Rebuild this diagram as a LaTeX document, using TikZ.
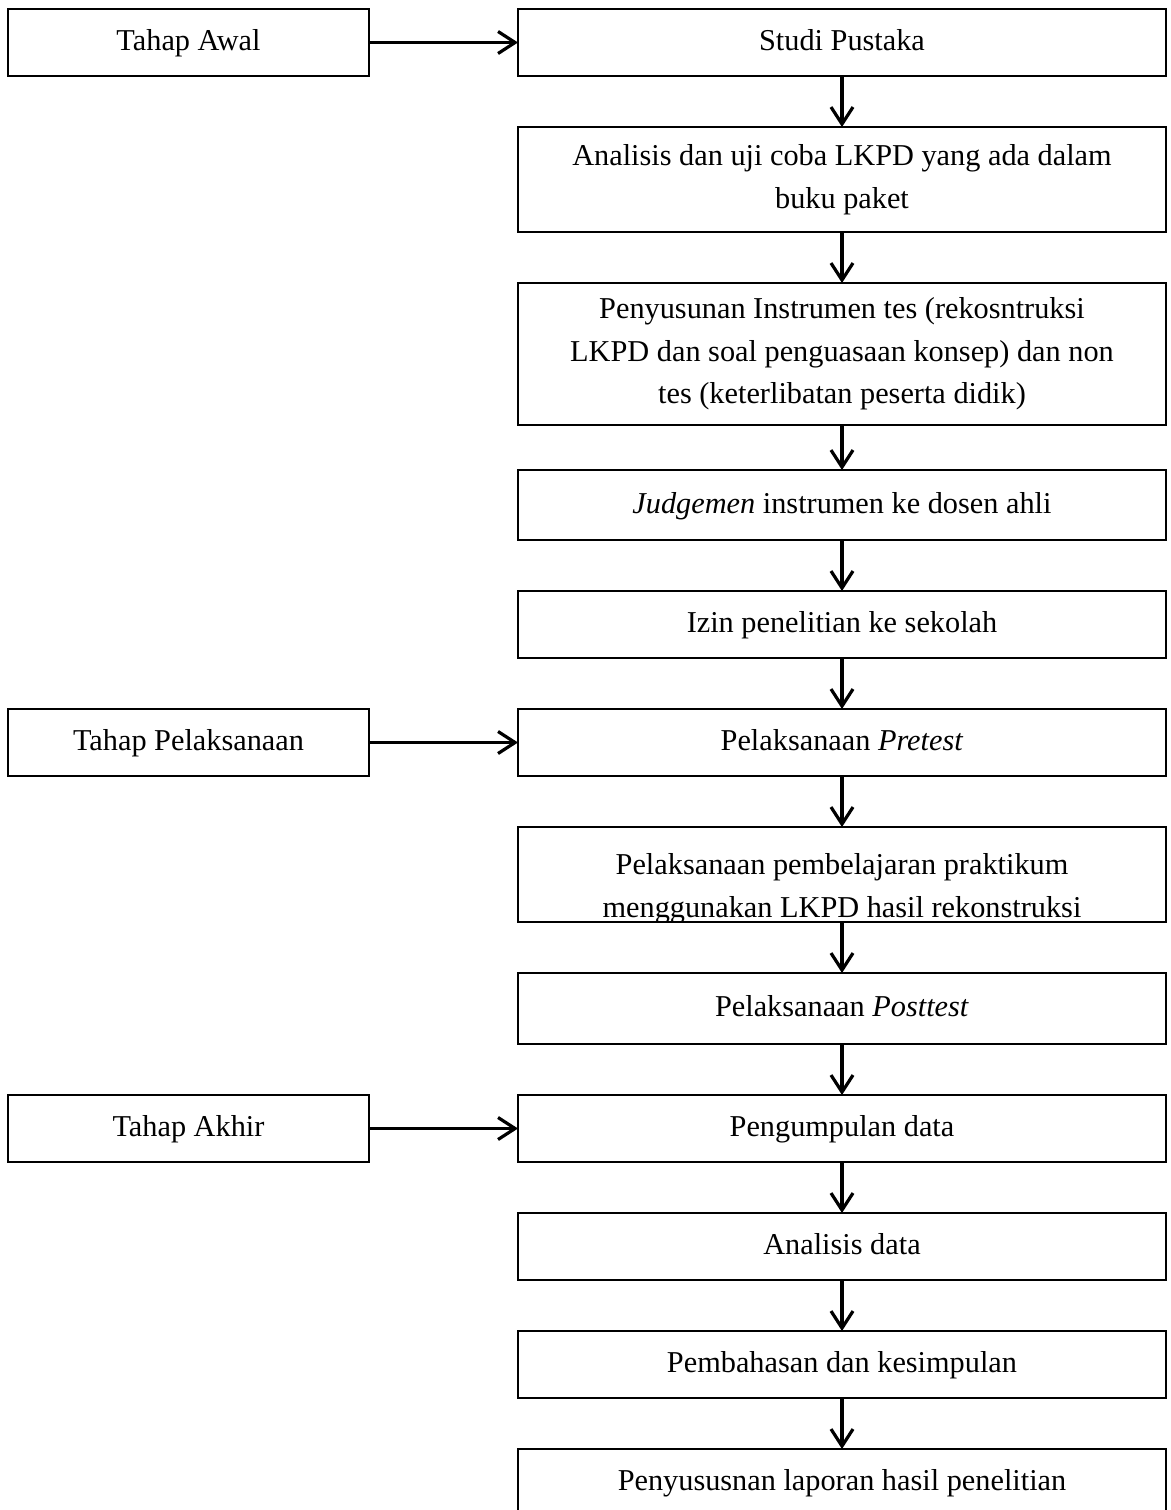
\documentclass[tikz,border=0pt]{standalone}
\usepackage{fontspec}
\setmainfont{Liberation Serif}
\usetikzlibrary{positioning,arrows.meta}
\begin{document}
\begin{tikzpicture}[x = 0.5pt, y = -0.5pt, node distance = 25.5pt,
    every node/.style = {font = \fontsize{15.15pt}{21.25pt}\selectfont},
    box/.style = {draw, rectangle, line width = 1.2pt, align = center, inner sep = 0pt, outer sep = 0pt,
      minimum width = 324pt, minimum height = 33.5pt},
    baris/.style = {text height = 11pt, text depth = 3pt},
    tahap/.style = {box, baris, minimum width = 180.5pt},
    panah/.style = {-{Straight Barb[length = 8.5pt, width = 11pt]}, line width = 1.6pt}]
      \useasboundingbox (0,0) rectangle (1171,1510);

      \node[box, baris, anchor = north] (studi) at (842,9) {Studi Pustaka};
      \node[box, minimum height = 52.5pt] (analisis) [below = of studi] {Analisis dan uji coba LKPD yang ada dalam\\ buku paket};
      \node[box, minimum height = 71pt] (instrumen) [below = of analisis] {Penyusunan Instrumen tes (rekosntruksi\\ LKPD dan soal penguasaan konsep) dan non\\ tes (keterlibatan peserta didik)};
      \node[box, baris, minimum height = 35pt] (judgemen) [below = 22.5pt of instrumen] {\textit{Judgemen} instrumen ke dosen ahli};
      \node[box, baris] (izin) [below = of judgemen] {Izin penelitian ke sekolah};
      \node[box, baris] (pretest) [below = of izin] {Pelaksanaan \textit{Pretest}};
      \node[box, minimum height = 47.5pt] (praktikum) [below = of pretest] {};
      \node[box, baris, minimum height = 35.5pt] (posttest) [below = of praktikum] {Pelaksanaan \textit{Posttest}};
      \node[box, baris] (pengumpulan) [below = of posttest] {Pengumpulan data};
      \node[box, baris] (analisisdata) [below = of pengumpulan] {Analisis data};
      \node[box, baris] (pembahasan) [below = of analisisdata] {Pembahasan dan kesimpulan};
      \node[box, baris] (laporan) [below = of pembahasan] {Penyususnan laporan hasil penelitian};

      \begin{scope}
        \clip (praktikum.south west) rectangle (praktikum.north east);
        \node[align = center] (praktikumteks) at ([yshift = -7pt]praktikum.center) {Pelaksanaan pembelajaran praktikum\\ menggunakan LKPD hasil rekonstruksi};
      \end{scope}

      \node[tahap] (awal) [left = 74.5pt of studi] {Tahap Awal};
      \node[tahap] (pelaksanaan) [left = 74.5pt of pretest] {Tahap Pelaksanaan};
      \node[tahap] (akhir) [left = 74.5pt of pengumpulan] {Tahap Akhir};

      \path[panah] (awal) edge (studi);
      \path[panah] (pelaksanaan) edge (pretest);
      \path[panah] (akhir) edge (pengumpulan);

      \path[panah] (studi) edge (analisis);
      \path[panah] (analisis) edge (instrumen);
      \path[panah] (instrumen) edge (judgemen);
      \path[panah] (judgemen) edge (izin);
      \path[panah] (izin) edge (pretest);
      \path[panah] (pretest) edge (praktikum);
      \path[panah] (praktikum) edge (posttest);
      \path[panah] (posttest) edge (pengumpulan);
      \path[panah] (pengumpulan) edge (analisisdata);
      \path[panah] (analisisdata) edge (pembahasan);
      \path[panah] (pembahasan) edge (laporan);
    \end{tikzpicture}
\end{document}
